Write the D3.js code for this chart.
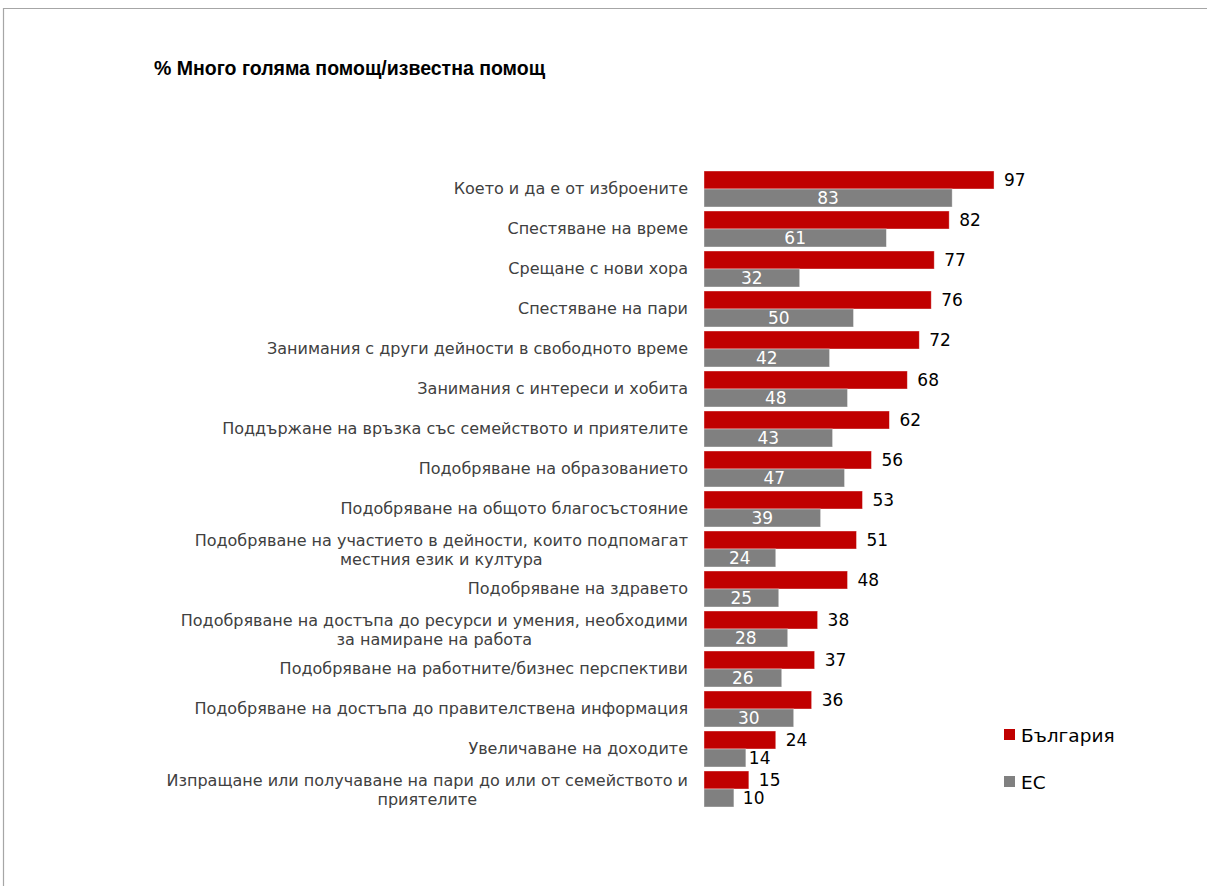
<!DOCTYPE html>
<html>
<head>
<meta charset="utf-8">
<script src="https://cdn.jsdelivr.net/npm/d3@7"></script>
<style>
  html, body { margin: 0; padding: 0; background: #fff; }
  svg { display: block; }
</style>
</head>
<body>
<svg id="chart" width="1207" height="886"></svg>
<script>
// Categories, top to bottom ("\n" marks a line break in the label)
const categories = [
  "Което и да е от изброените",
  "Спестяване на време",
  "Срещане с нови хора",
  "Спестяване на пари",
  "Занимания с други дейности в свободното време",
  "Занимания с интереси и хобита",
  "Поддържане на връзка със семейството и приятелите",
  "Подобряване на образованието",
  "Подобряване на общото благосъстояние",
  "Подобряване на участието в дейности, които подпомагат\nместния език и култура",
  "Подобряване на здравето",
  "Подобряване на достъпа до ресурси и умения, необходими\nза намиране на работа",
  "Подобряване на работните/бизнес перспективи",
  "Подобряване на достъпа до правителствена информация",
  "Увеличаване на доходите",
  "Изпращане или получаване на пари до или от семейството и\nприятелите"
];
const bulgaria = [97, 82, 77, 76, 72, 68, 62, 56, 53, 51, 48, 38, 37, 36, 24, 15];
const eu       = [83, 61, 32, 50, 42, 48, 43, 47, 39, 24, 25, 28, 26, 30, 14, 10];
const seriesNames = ["България", "ЕС"];
const title = "% Много голяма помощ/известна помощ";

const RED = "#c00000", GREY = "#808080";
const svg = d3.select("#chart");

// Frame
svg.append("line").attr("x1", 3).attr("x2", 1207).attr("y1", 8.5).attr("y2", 8.5)
  .attr("stroke", "#a6a6a6").attr("stroke-width", 1.2);
svg.append("line").attr("x1", 3.5).attr("x2", 3.5).attr("y1", 8).attr("y2", 886)
  .attr("stroke", "#a6a6a6").attr("stroke-width", 1.2);

// Title
svg.append("text").attr("x", 154).attr("y", 75)
  .attr("font-family", "'Liberation Sans', Arial, sans-serif")
  .attr("font-weight", "bold").attr("font-size", 19.5).attr("fill", "#000")
  .text(title);

const x = d3.scaleLinear().domain([0, 100]).range([704, 1003]);
const y = d3.scaleBand().domain(categories).range([169, 809]).padding(0);
const sub = d3.scaleBand().domain(seriesNames).range([2, 38]).padding(0);

const rows = categories.map((c, i) => ({ c, bg: bulgaria[i], eu: eu[i] }));
const font = "'DejaVu Sans', Verdana, sans-serif";

const g = svg.append("g");
const row = g.selectAll("g.row").data(rows).join("g").attr("class", "row")
  .attr("transform", d => `translate(0,${y(d.c)})`);

// Bulgaria bars
row.append("rect")
  .attr("x", x(0)).attr("y", sub("България"))
  .attr("width", d => x(d.bg) - x(0)).attr("height", sub.bandwidth())
  .attr("fill", RED).attr("stroke", "#fff").attr("stroke-opacity", 0.5).attr("stroke-width", 0.75);
// EU bars
row.append("rect")
  .attr("x", x(0)).attr("y", sub("ЕС"))
  .attr("width", d => x(d.eu) - x(0)).attr("height", sub.bandwidth())
  .attr("fill", GREY).attr("stroke", "#fff").attr("stroke-opacity", 0.5).attr("stroke-width", 0.75);

// Bulgaria value labels, outside end
row.append("text")
  .attr("x", d => x(d.bg) + 10)
  .attr("y", sub("България") + sub.bandwidth() / 2)
  .attr("dy", "0.36em")
  .attr("font-family", font).attr("font-size", 17).attr("fill", "#000")
  .text(d => d.bg);

// EU value labels: centred in white when they fit, otherwise after the bar
row.append("text")
  .each(function (d) {
    const t = d3.select(this);
    const fits = x(d.eu) - x(0) > 50;
    if (fits) {
      t.attr("x", (x(0) + x(d.eu)) / 2).attr("text-anchor", "middle").attr("fill", "#fff");
    } else {
      t.attr("x", Math.max(x(d.eu) + 3, x(13))).attr("text-anchor", "start").attr("fill", "#000");
    }
  })
  .attr("y", sub("ЕС") + sub.bandwidth() / 2)
  .attr("dy", "0.36em")
  .attr("font-family", font).attr("font-size", 17)
  .text(d => d.eu);

// Category labels, right aligned, vertically centred on the pair of bars
row.each(function (d) {
  const lines = d.c.split("\n");
  const lh = 19;
  const cy = 19 + (lines.length > 1 ? 2 : 0);
  const t = d3.select(this).append("text")
    .attr("text-anchor", "end")
    .attr("font-family", font).attr("font-size", 16).attr("fill", "#404040");
  lines.forEach((ln, k) => {
    t.append("tspan")
      .attr("x", 688)
      .attr("y", cy - (lines.length - 1) * lh / 2 + k * lh)
      .attr("dy", "0.36em")
      .text(ln);
  });
  if (lines.length > 1) {
    // second line centred under the first
    const first = t.select("tspan").node();
    const w = first.getComputedTextLength();
    t.selectAll("tspan").filter((_, k) => k > 0)
      .attr("text-anchor", "middle").attr("x", 688 - w / 2);
  }
});

// Legend
const legend = svg.append("g");
const legItems = [{ n: seriesNames[0], c: RED, y: 735 }, { n: seriesNames[1], c: GREY, y: 782 }];
legItems.forEach(it => {
  legend.append("rect").attr("x", 1004).attr("y", it.y - 6).attr("width", 11).attr("height", 11).attr("fill", it.c);
  legend.append("text").attr("x", 1021).attr("y", it.y).attr("dy", "0.36em")
    .attr("font-family", font).attr("font-size", 18.5).attr("fill", "#000").text(it.n);
});
</script>
</body>
</html>
